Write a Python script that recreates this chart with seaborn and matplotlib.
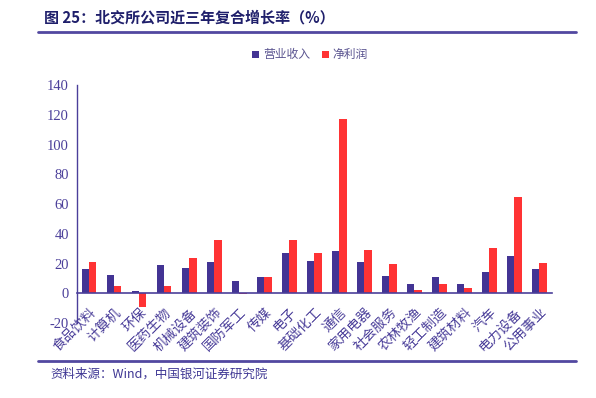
import matplotlib
matplotlib.use("Agg")
import matplotlib.pyplot as plt
import seaborn as sns
import pandas as pd
from matplotlib.lines import Line2D
from matplotlib.patches import Patch

categories = ["食品饮料", "计算机", "环保", "医药生物", "机械设备", "建筑装饰", "国防军工",
              "传媒", "电子", "基础化工", "通信", "家用电器", "社会服务", "农林牧渔",
              "轻工制造", "建筑材料", "汽车", "电力设备", "公用事业"]
revenue = [16.4, 12.3, 1.5, 19.0, 16.7, 21.0, 8.6, 11.0, 27.0, 22.0, 28.5, 21.0, 11.4, 6.5,
           10.8, 6.0, 14.3, 25.3, 16.2]
profit = [21.0, 5.0, -9.0, 5.0, 24.0, 36.0, -0.5, 11.0, 36.0, 27.0, 117.0, 29.0, 19.7, 2.2,
          6.0, 3.6, 30.3, 64.8, 20.4]
series = ["营业收入", "净利润"]
yticks = [-20, 0, 20, 40, 60, 80, 100, 120, 140]

title = "图 25：北交所公司近三年复合增长率（%）"
source = "资料来源：Wind，中国银河证券研究院"

df = pd.DataFrame({
    "行业": categories * 2,
    "系列": [series[0]] * len(categories) + [series[1]] * len(categories),
    "值": revenue + profit,
})

sns.set_style("white")
plt.rcParams["font.family"] = ["Noto Sans CJK SC", "DejaVu Sans"]

BLUE = "#433494"
RED = "#FF3334"
AXC = "#4B3F9A"

fig = plt.figure(figsize=(5.96, 3.98), dpi=100)
ax = fig.add_axes([0.1287, 0.1884, 0.7973, 0.5973])

sns.barplot(data=df, x="行业", y="值", hue="系列", hue_order=series,
            palette=[BLUE, RED], width=0.58, ax=ax, legend=False,
            edgecolor="none", saturation=1)

ax.set_xlim(-0.5, len(categories) - 0.5)
ax.set_ylim(-20, 140)
ax.set_yticks(yticks)
ax.set_yticklabels([str(v) for v in yticks], family="Liberation Serif",
                   fontsize=10.5, color=AXC)
ax.set_xlabel("")
ax.set_ylabel("")

for s in ["top", "right"]:
    ax.spines[s].set_visible(False)
ax.spines["bottom"].set_position(("data", 0))
ax.spines["bottom"].set_color(AXC)
ax.spines["bottom"].set_linewidth(1.2)
ax.spines["left"].set_color(AXC)
ax.spines["left"].set_linewidth(1.0)
ax.tick_params(axis="y", direction="out", length=3.5, color=AXC, width=1, pad=2)
ax.tick_params(axis="x", length=0, pad=8.5)
ax.set_xticks(range(len(categories)))
ax.set_xticklabels(categories, rotation=45, ha="right", rotation_mode="anchor",
                   fontsize=9.8, color=AXC)

handles = [Patch(facecolor=BLUE, edgecolor="none"), Patch(facecolor=RED, edgecolor="none")]
leg = fig.legend(handles, series, loc="center", bbox_to_anchor=(0.52, 0.862),
                 ncol=2, frameon=False, fontsize=8.5, handlelength=0.6,
                 handleheight=0.6, handletextpad=0.3, columnspacing=1.0)
for t in leg.get_texts():
    t.set_color("#5A5490")

fig.text(0.074, 0.955, title, fontsize=10.8, fontweight="bold", color="#1F1F6B",
         va="center", ha="left")
fig.add_artist(Line2D([0.064, 0.966], [0.919, 0.919], color="#5248A0", linewidth=2,
                      transform=fig.transFigure))
fig.add_artist(Line2D([0.064, 0.966], [0.093, 0.093], color="#5248A0", linewidth=2,
                      transform=fig.transFigure))
fig.text(0.084, 0.060, source, fontsize=9, style="italic", color="#3F3794",
         va="center", ha="left")

fig.savefig("out.png", dpi=100)
